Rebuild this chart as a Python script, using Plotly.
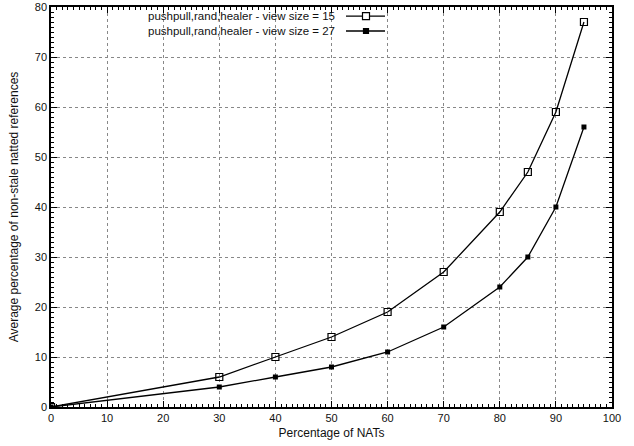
import plotly.graph_objects as go

x_nats = [0, 30, 40, 50, 60, 70, 80, 85, 90, 95]
view15 = [0, 6, 10, 14, 19, 27, 39, 47, 59, 77]
view27 = [0, 4, 6, 8, 11, 16, 24, 30, 40, 56]
labels = ["pushpull,rand,healer - view size = 15", "pushpull,rand,healer - view size = 27"]

W, H = 634, 446
L, R, T, B = 51, 22, 7, 39
fam = "Liberation Sans, Arial, sans-serif"
font = dict(family=fam, size=11, color="#111")
tfont = dict(family=fam, size=12, color="#111")
lfont = dict(family=fam, size=11.5, color="#111")

fig = go.Figure()
fig.add_trace(go.Scatter(x=x_nats, y=view15, mode="lines+markers", name=labels[0],
                         line=dict(color="black", width=1.3),
                         marker=dict(symbol="square-open", size=7, color="black", line=dict(width=1.2)),
                         showlegend=False))
fig.add_trace(go.Scatter(x=x_nats, y=view27, mode="lines+markers", name=labels[1],
                         line=dict(color="black", width=1.3),
                         marker=dict(symbol="square", size=5, color="black"),
                         showlegend=False))

axis_common = dict(showline=True, linecolor="black", linewidth=1.5, mirror="allticks",
                   ticks="inside", ticklen=6, tickwidth=1, tickcolor="black",
                   showgrid=True, gridcolor="#888", griddash="dot", gridwidth=1,
                   zeroline=False, tickfont=font, automargin=False,
                   minor=dict(ticks="inside", ticklen=3, tickcolor="black", showgrid=False))

fig.update_xaxes(range=[0, 100], dtick=10, minor_dtick=1,
                 title=dict(text="Percentage of NATs", font=tfont, standoff=6), **axis_common)
fig.update_yaxes(range=[0, 80], dtick=10, minor_dtick=1,
                 title=dict(text="Average percentage of non-stale natted references", font=tfont, standoff=14),
                 **axis_common)

pw = W - L - R
ph = H - T - B
def px_to_paper_x(px):
    return (px - L) / pw
def px_to_paper_y(py):
    return 1 - (py - T) / ph

# legend: gnuplot style, right-aligned text followed by the line sample
line_h = 1.3 * lfont["size"]
center_y = 23.5
legend_y = [center_y - line_h / 2, center_y + line_h / 2]
fig.add_annotation(x=px_to_paper_x(337), y=px_to_paper_y(center_y), xref="paper", yref="paper",
                   text="<br>".join(labels), align="right",
                   showarrow=False, xanchor="right", yanchor="middle", font=lfont)
fills = ["white", "black"]
for i in range(len(labels)):
    yy = px_to_paper_y(legend_y[i])
    fig.add_shape(type="line", xref="paper", yref="paper",
                  x0=px_to_paper_x(346), x1=px_to_paper_x(385), y0=yy, y1=yy,
                  line=dict(color="black", width=1.3))
    s = 3.5 if i == 0 else 2.5
    fig.add_shape(type="rect", xref="paper", yref="paper",
                  x0=px_to_paper_x(366 - s), x1=px_to_paper_x(366 + s),
                  y0=px_to_paper_y(legend_y[i] + s), y1=px_to_paper_y(legend_y[i] - s),
                  line=dict(color="black", width=1.2), fillcolor=fills[i])

fig.update_layout(width=W, height=H, margin=dict(l=L, r=R, t=T, b=B, autoexpand=False),
                  paper_bgcolor="white", plot_bgcolor="white", font=font)
fig.write_html("out.html", config={"displayModeBar": False},
               post_script="document.body.style.margin='0px';document.body.style.overflow='hidden';")
